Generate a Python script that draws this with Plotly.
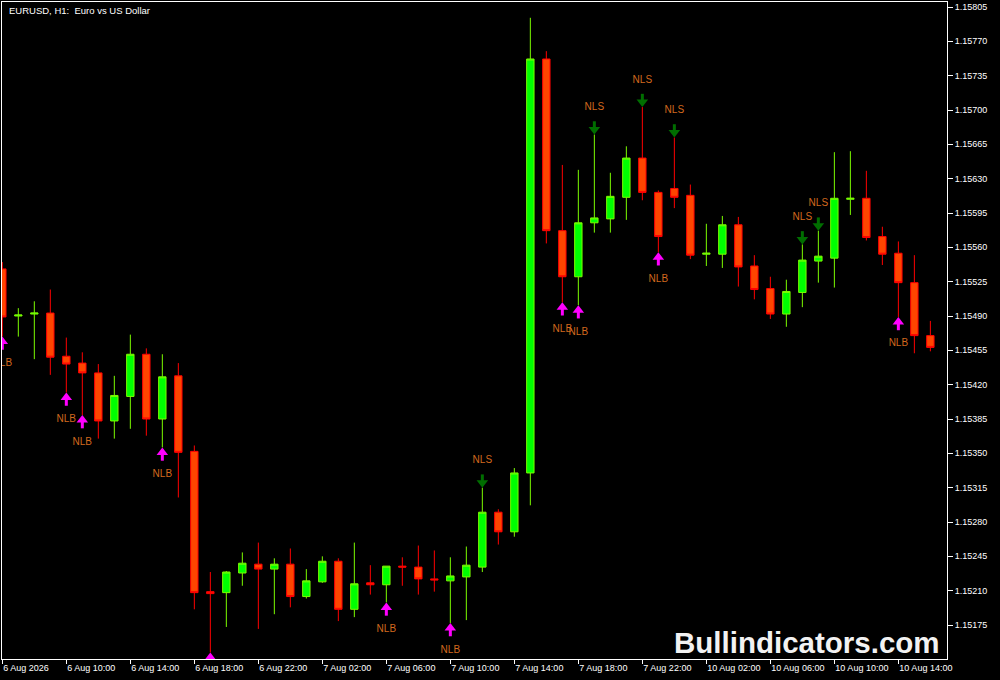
import plotly.graph_objects as go

# ---- data (EURUSD H1) ----
opens = [1.15538, 1.15490, 1.15492, 1.15493, 1.15449, 1.15442, 1.15432, 1.15383, 1.15408, 1.15451,
         1.15385, 1.15429, 1.15352, 1.15209, 1.15208, 1.15228, 1.15237, 1.15232, 1.15237, 1.15204,
         1.15219, 1.15240, 1.15191, 1.15218, 1.15216, 1.15235, 1.15234, 1.15222, 1.15220, 1.15224,
         1.15234, 1.15290, 1.15270, 1.15330, 1.15752, 1.15577, 1.15530, 1.15585, 1.15589, 1.15611,
         1.15651, 1.15616, 1.15620, 1.15613, 1.15553, 1.15553, 1.15583, 1.15541, 1.15518, 1.15492,
         1.15514, 1.15546, 1.15549, 1.15609, 1.15610, 1.15571, 1.15554, 1.15524, 1.15470]
highs = [1.15545, 1.15498, 1.15505, 1.15517, 1.15468, 1.15453, 1.15441, 1.15429, 1.15471, 1.15457,
         1.15451, 1.15442, 1.15358, 1.15229, 1.15230, 1.15249, 1.15259, 1.15243, 1.15253, 1.15232,
         1.15245, 1.15243, 1.15259, 1.15236, 1.15235, 1.15244, 1.15256, 1.15251, 1.15244, 1.15255,
         1.15315, 1.15293, 1.15335, 1.15794, 1.15760, 1.15644, 1.15639, 1.15675, 1.15636, 1.15663,
         1.15703, 1.15618, 1.15672, 1.15624, 1.15584, 1.15592, 1.15591, 1.15552, 1.15530, 1.15527,
         1.15563, 1.15577, 1.15657, 1.15658, 1.15638, 1.15581, 1.15566, 1.15552, 1.15485]
lows = [1.15469, 1.15469, 1.15446, 1.15430, 1.15412, 1.15389, 1.15365, 1.15365, 1.15375, 1.15368,
        1.15356, 1.15305, 1.15191, 1.15147, 1.15173, 1.15215, 1.15171, 1.15186, 1.15193, 1.15202,
        1.15218, 1.15179, 1.15183, 1.15206, 1.15198, 1.15215, 1.15206, 1.15209, 1.15177, 1.15180,
        1.15229, 1.15257, 1.15265, 1.15297, 1.15564, 1.15504, 1.15501, 1.15575, 1.15575, 1.15588,
        1.15608, 1.15555, 1.15600, 1.15548, 1.15541, 1.15539, 1.15520, 1.15507, 1.15487, 1.15479,
        1.15499, 1.15524, 1.15519, 1.15593, 1.15567, 1.15542, 1.15489, 1.15452, 1.15454]
closes = [1.15489, 1.15491, 1.15493, 1.15448, 1.15441, 1.15432, 1.15383, 1.15409, 1.15451, 1.15385,
          1.15428, 1.15351, 1.15208, 1.15207, 1.15229, 1.15238, 1.15232, 1.15237, 1.15204, 1.15220,
          1.15240, 1.15191, 1.15217, 1.15216, 1.15235, 1.15234, 1.15222, 1.15221, 1.15225, 1.15236,
          1.15290, 1.15270, 1.15330, 1.15752, 1.15577, 1.15530, 1.15585, 1.15590, 1.15612, 1.15651,
          1.15616, 1.15571, 1.15611, 1.15552, 1.15554, 1.15583, 1.15540, 1.15517, 1.15492, 1.15515,
          1.15547, 1.15551, 1.15610, 1.15610, 1.15570, 1.15553, 1.15524, 1.15470, 1.15458]

tick_idx = [0, 4, 8, 12, 16, 20, 24, 28, 32, 36, 40, 44, 48, 52, 56]
tick_labels = ["6 Aug 2026", "6 Aug 10:00", "6 Aug 14:00", "6 Aug 18:00", "6 Aug 22:00",
               "7 Aug 02:00", "7 Aug 06:00", "7 Aug 10:00", "7 Aug 14:00", "7 Aug 18:00",
               "7 Aug 22:00", "10 Aug 02:00", "10 Aug 06:00", "10 Aug 10:00", "10 Aug 14:00"]
price_ticks = [1.15175, 1.15210, 1.15245, 1.15280, 1.15315, 1.15350, 1.15385, 1.15420, 1.15455,
               1.15490, 1.15525, 1.15560, 1.15595, 1.15630, 1.15665, 1.15700, 1.15735, 1.15770, 1.15805]

nlb_idx = [0, 4, 5, 10, 13, 24, 28, 35, 36, 41, 56]   # buy signals (arrow under low)
nls_idx = [30, 37, 40, 42, 50, 51]                    # sell signals (arrow over high)

# ---- style constants (price units ~ pixels on this scale) ----
ARROW_OFF = 0.000051
STEM = 0.000084
LABEL_GAP = 0.000275
FONT = "Liberation Sans"
Y_RANGE = [1.1514034, 1.158101]

x = list(range(len(opens)))

fig = go.Figure()
fig.add_trace(go.Candlestick(
    x=x, open=opens, high=highs, low=lows, close=closes,
    increasing=dict(line=dict(color="#7CFC00", width=1), fillcolor="#00FF00"),
    decreasing=dict(line=dict(color="#FF0000", width=1), fillcolor="#FF4500"),
    whiskerwidth=0, hoverinfo="skip", showlegend=False))

nlb_low = [lows[i] for i in nlb_idx]
nls_high = [highs[i] for i in nls_idx]

fig.add_trace(go.Scatter(
    x=nlb_idx, y=[v - ARROW_OFF for v in nlb_low], mode="markers",
    marker=dict(symbol="triangle-up", size=10, color="#FF00FF", line=dict(width=0)),
    error_y=dict(type="constant", symmetric=False, value=0, valueminus=STEM,
                 thickness=3, width=0, color="#FF00FF"),
    hoverinfo="skip", showlegend=False))

# labels whose position falls inside the visible price window
lab_x = [i for i, v in zip(nlb_idx, nlb_low) if v - LABEL_GAP > Y_RANGE[0]]
lab_y = [v - LABEL_GAP for v in nlb_low if v - LABEL_GAP > Y_RANGE[0]]
fig.add_trace(go.Scatter(
    x=lab_x, y=lab_y, mode="text",
    text=["NLB"] * len(lab_x), textposition="middle center",
    textfont=dict(family=FONT, size=10, color="#D2691E"),
    hoverinfo="skip", showlegend=False))

fig.add_trace(go.Scatter(
    x=nls_idx, y=[v + ARROW_OFF for v in nls_high], mode="markers",
    marker=dict(symbol="triangle-down", size=10, color="#006E00", line=dict(width=0)),
    error_y=dict(type="constant", symmetric=False, value=STEM, valueminus=0,
                 thickness=3, width=0, color="#006E00"),
    hoverinfo="skip", showlegend=False))
fig.add_trace(go.Scatter(
    x=nls_idx, y=[v + LABEL_GAP for v in nls_high], mode="text",
    text=["NLS"] * len(nls_idx), textposition="middle center",
    textfont=dict(family=FONT, size=10, color="#D2691E"),
    hoverinfo="skip", showlegend=False))

fig.update_layout(
    width=1000, height=680,
    margin=dict(l=2, r=53, t=2, b=21, autoexpand=False),
    paper_bgcolor="black", plot_bgcolor="black",
    showlegend=False, boxgap=0.34,
    xaxis=dict(range=[-0.02, 59.04], rangeslider=dict(visible=False),
               tickmode="array", tickvals=tick_idx, ticktext=tick_labels,
               ticks="outside", ticklen=4, tickcolor="white", tickwidth=1,
               ticklabelposition="outside right",
               showline=True, linecolor="white", linewidth=1, mirror=True,
               showgrid=False, zeroline=False, automargin=False, fixedrange=True,
               tickfont=dict(family=FONT, size=9, color="white")),
    yaxis=dict(range=Y_RANGE, side="right",
               tickmode="array", tickvals=price_ticks, tickformat=".5f",
               ticks="outside", ticklen=5, tickcolor="white", tickwidth=1,
               showline=True, linecolor="white", linewidth=1, mirror=True,
               showgrid=False, zeroline=False, automargin=False, fixedrange=True,
               tickfont=dict(family=FONT, size=9, color="white")),
    annotations=[
        dict(xref="paper", yref="paper", x=0.0053, y=0.9878, xanchor="left", yanchor="middle",
             text="EURUSD, H1:&nbsp; Euro vs US Dollar", showarrow=False,
             font=dict(family=FONT, size=9.5, color="white")),
        dict(xref="paper", yref="paper", x=0.9947, y=0.0244, xanchor="right", yanchor="middle",
             text="<b>Bullindicators.com</b>", showarrow=False,
             font=dict(family=FONT, size=29.5, color="#F2F2F2")),
    ],
)

fig.write_html("out.html", config={"displayModeBar": False},
               post_script="document.body.style.margin='0';document.body.style.overflow='hidden';")
